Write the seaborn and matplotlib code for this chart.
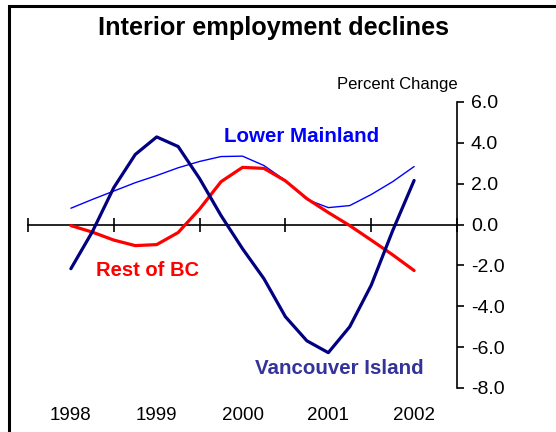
import numpy as np
import pandas as pd
import matplotlib
matplotlib.use('Agg')
import matplotlib.pyplot as plt
import seaborn as sns
from matplotlib.patches import Rectangle
from matplotlib.transforms import blended_transform_factory

# quarterly percent change, 1998Q1 - 2002Q1
periods = ['1998Q1', '1998Q2', '1998Q3', '1998Q4',
           '1999Q1', '1999Q2', '1999Q3', '1999Q4',
           '2000Q1', '2000Q2', '2000Q3', '2000Q4',
           '2001Q1', '2001Q2', '2001Q3', '2001Q4',
           '2002Q1']
years = ['1998', '1999', '2000', '2001', '2002']

lower_mainland = [0.80, 1.23, 1.64, 2.05, 2.40, 2.78, 3.09, 3.33, 3.35,
                  2.89, 2.16, 1.23, 0.83, 0.93, 1.47, 2.10, 2.84]
rest_of_bc = [-0.05, -0.37, -0.76, -1.03, -0.98, -0.39, 0.76, 2.10, 2.80,
              2.75, 2.14, 1.27, 0.59, -0.05, -0.76, -1.48, -2.25]
vancouver_island = [-2.16, -0.35, 1.81, 3.43, 4.29, 3.82, 2.25, 0.44, -1.18,
                    -2.65, -4.51, -5.69, -6.27, -5.00, -2.97, -0.30, 2.16]

df = pd.DataFrame({'periodo': periods,
                   'x': np.arange(len(periods)),
                   'Lower Mainland': lower_mainland,
                   'Rest of BC': rest_of_bc,
                   'Vancouver Island': vancouver_island})

sns.set_style('white')
plt.rcParams['font.family'] = ['Liberation Sans', 'DejaVu Sans']
plt.rcParams['text.color'] = 'black'

W, H = 556, 432
fig = plt.figure(figsize=(W / 100, H / 100), dpi=100)
ax = fig.add_axes([28 / W, (H - 388) / H, (457 - 28) / W, (388 - 102) / H])

sns.lineplot(data=df, x='x', y='Lower Mainland', color='#0000FF', lw=1.0, ax=ax, zorder=3)
sns.lineplot(data=df, x='x', y='Rest of BC', color='#FF0000', lw=2.3, ax=ax, zorder=4)
sns.lineplot(data=df, x='x', y='Vancouver Island', color='#000080', lw=2.3, ax=ax, zorder=5)

ax.set_xlim(-2, 18)
ax.set_ylim(-8, 6)
ax.set_xlabel('')
ax.set_ylabel('')

# eixo da direita com os valores
for s in ['top', 'left']:
    ax.spines[s].set_visible(False)
ax.spines['right'].set_color('black')
ax.spines['right'].set_linewidth(1.2)
ax.spines['bottom'].set_position(('data', 0))
ax.spines['bottom'].set_color('black')
ax.spines['bottom'].set_linewidth(1.2)
ax.yaxis.tick_right()
ax.set_yticks(np.arange(-8, 7, 2))
ax.set_yticklabels([f'{v:.1f}' for v in np.arange(-8, 7, 2)])
ax.tick_params(axis='y', right=True, direction='out', length=5, width=1.2,
               pad=5, labelsize=14, colors='black')
ax.set_xticks(np.arange(-2, 19, 4))
ax.set_xticklabels([])
ax.tick_params(axis='x', bottom=True, direction='inout', length=10, width=1.2,
               colors='black')

trans = blended_transform_factory(ax.transData, fig.transFigure)
for i, yr in enumerate(years):
    ax.text(i * 4, (H - 415) / H, yr, transform=trans, ha='center', va='center',
            fontsize=13.5, color='black')

fig.text(273 / W, (H - 28) / H, 'Interior employment declines', ha='center',
         va='center', fontsize=18.2, fontweight='bold', color='black')
fig.text(458 / W, (H - 85) / H, 'Percent Change', ha='right', va='center',
         fontsize=12, color='black')

ax.text(224 / W, (H - 136) / H, 'Lower Mainland', transform=fig.transFigure,
        color='#0000FF', fontsize=14.8, fontweight='bold', va='center')
ax.text(96 / W, (H - 270) / H, 'Rest of BC', transform=fig.transFigure,
        color='#FF0000', fontsize=14.5, fontweight='bold', va='center')
ax.text(255 / W, (H - 368) / H, 'Vancouver Island', transform=fig.transFigure,
        color='#333399', fontsize=14.8, fontweight='bold', va='center')

# marco do grafico
fig.add_artist(Rectangle((8.5 / W, -0.2), 1.5, (H - 5.5) / H + 0.2, fill=False,
                         lw=2.2, edgecolor='black', transform=fig.transFigure))

fig.savefig('out.png', dpi=100)
